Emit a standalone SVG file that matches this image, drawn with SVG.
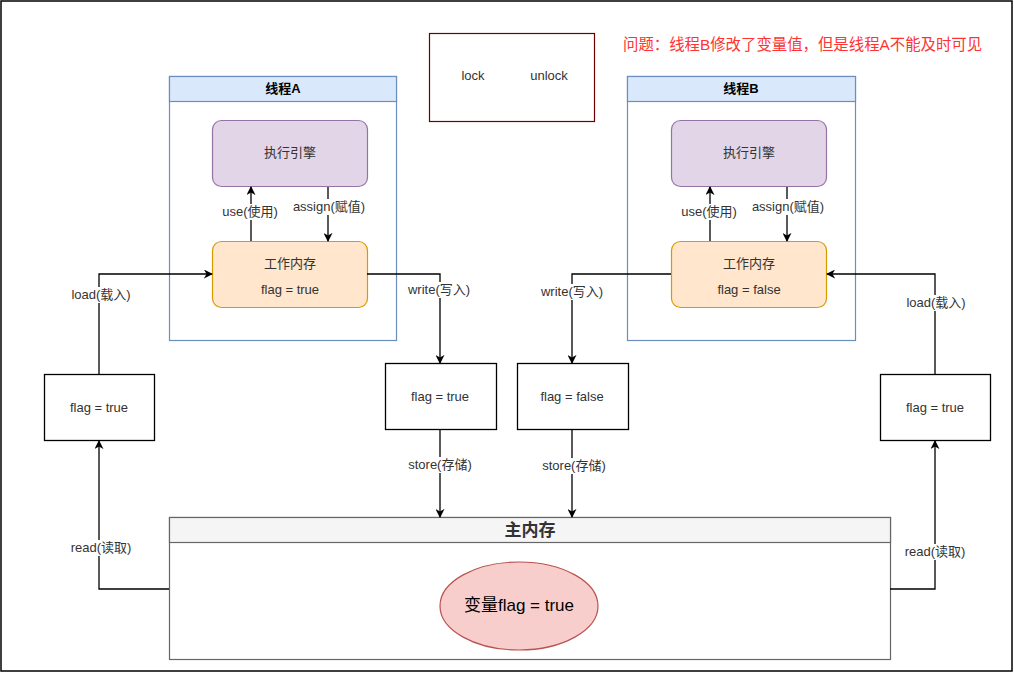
<svg xmlns="http://www.w3.org/2000/svg" width="1014" height="673" viewBox="0 0 1014 673">
<style>
text{font-family:"Liberation Sans","Noto Sans CJK SC",sans-serif;font-size:13px;fill:#333333;text-anchor:middle;dominant-baseline:central}
.edge{fill:none;stroke:#000;stroke-width:1.3}
.lbl{fill:#fff;stroke:none}
.box{fill:#fff;stroke:#000;stroke-width:1.3}
.eng{fill:#e1d5e7;stroke:#9673a6;stroke-width:1.2}
.wm{fill:#ffe6cc;stroke:#d79b00;stroke-width:1.2}
.th{fill:#fff;stroke:#6c8ebf;stroke-width:1.2}
.thh{fill:#dae8fc;stroke:#6c8ebf;stroke-width:1.2}
.bold{font-weight:bold;fill:#000}
</style>
<defs>
<marker id="arr" viewBox="0 0 10 10" refX="9" refY="5" markerWidth="9" markerHeight="9" markerUnits="userSpaceOnUse" orient="auto">
<path d="M0,0 L10,5 L0,10 L3,5 Z" fill="#000"/>
</marker>
</defs>
<rect x="1" y="1" width="1011" height="670" fill="#fff" stroke="#000" stroke-width="1.5"/>

<g id="lockbox">
<rect x="429.5" y="33.5" width="165" height="88" fill="#fff" stroke="#6f0000" stroke-width="1.2"/>
<text x="473" y="75">lock</text>
<text x="549" y="75">unlock</text>
</g>
<g id="problem">
<text x="623" y="44" style="text-anchor:start;fill:#ff3333;font-size:15.4px">问题：线程B修改了变量值，但是线程A不能及时可见</text>
</g>

<g id="threadA">
<rect class="th" x="169.5" y="76.5" width="227" height="264"/>
<rect class="thh" x="169.5" y="76.5" width="227" height="25"/>
<text class="bold" x="283" y="88">线程A</text>
</g>
<g id="engineA">
<rect class="eng" x="212.5" y="120.5" width="155" height="66" rx="9"/>
<text x="290" y="152">执行引擎</text>
</g>
<g id="wmA">
<rect class="wm" x="212.5" y="241.5" width="155" height="66" rx="9"/>
<text x="290" y="263">工作内存</text>
<text x="290" y="289">flag = true</text>
</g>

<g id="threadB">
<rect class="th" x="627.5" y="76.5" width="228" height="264"/>
<rect class="thh" x="627.5" y="76.5" width="228" height="25"/>
<text class="bold" x="741" y="88">线程B</text>
</g>
<g id="engineB">
<rect class="eng" x="671.5" y="120.5" width="155" height="66" rx="9"/>
<text x="749" y="152">执行引擎</text>
</g>
<g id="wmB">
<rect class="wm" x="671.5" y="241.5" width="155" height="66" rx="9"/>
<text x="749" y="263">工作内存</text>
<text x="749" y="289">flag = false</text>
</g>

<g id="boxL">
<rect class="box" x="44.5" y="374.5" width="110" height="66"/>
<text x="99" y="407">flag = true</text>
</g>
<g id="boxML">
<rect class="box" x="385.5" y="363.5" width="111" height="66"/>
<text x="440" y="396">flag = true</text>
</g>
<g id="boxMR">
<rect class="box" x="517.5" y="363.5" width="111" height="66"/>
<text x="572" y="396">flag = false</text>
</g>
<g id="boxR">
<rect class="box" x="880.5" y="374.5" width="110" height="66"/>
<text x="935" y="407">flag = true</text>
</g>

<g id="mainMemory">
<rect x="169.5" y="517.5" width="721" height="142" fill="#fff" stroke="#666666" stroke-width="1.2"/>
<rect x="169.5" y="517.5" width="721" height="25" fill="#f5f5f5" stroke="#666666" stroke-width="1.2"/>
<text class="bold" x="530" y="530" style="font-size:17px;fill:#333">主内存</text>
</g>
<g id="variable">
<ellipse cx="519" cy="606" rx="79" ry="44" fill="#f8cecc" stroke="#b85450" stroke-width="1.2"/>
<text x="519" y="605" style="font-size:17px;fill:#000">变量flag = true</text>
</g>

<g id="connectors">
<path class="edge" d="M251,241 V187" marker-end="url(#arr)"/>
<path class="edge" d="M328,187 V241" marker-end="url(#arr)"/>
<path class="edge" d="M710,241 V187" marker-end="url(#arr)"/>
<path class="edge" d="M787,187 V241" marker-end="url(#arr)"/>
<path class="edge" d="M99,374 V274 H212" marker-end="url(#arr)"/>
<path class="edge" d="M367,274 H440 V363" marker-end="url(#arr)"/>
<path class="edge" d="M440,429 V517" marker-end="url(#arr)"/>
<path class="edge" d="M671,274 H572 V363" marker-end="url(#arr)"/>
<path class="edge" d="M572,429 V517" marker-end="url(#arr)"/>
<path class="edge" d="M935,374 V274 H827" marker-end="url(#arr)"/>
<path class="edge" d="M169,589 H99 V441" marker-end="url(#arr)"/>
<path class="edge" d="M890,589 H935 V441" marker-end="url(#arr)"/>

<rect class="lbl" x="218" y="204" width="65" height="16"/>
<text x="250" y="211">use(使用)</text>
<rect class="lbl" x="289" y="199" width="80" height="16"/>
<text x="329" y="206">assign(赋值)</text>
<rect class="lbl" x="677" y="204" width="65" height="16"/>
<text x="709" y="211">use(使用)</text>
<rect class="lbl" x="748" y="199" width="80" height="16"/>
<text x="788" y="206">assign(赋值)</text>
<rect class="lbl" x="68" y="287" width="66" height="16"/>
<text x="101" y="294">load(载入)</text>
<rect class="lbl" x="404" y="282" width="70" height="16"/>
<text x="439" y="289">write(写入)</text>
<rect class="lbl" x="537" y="284" width="70" height="16"/>
<text x="572" y="291">write(写入)</text>
<rect class="lbl" x="903" y="295" width="66" height="16"/>
<text x="936" y="302">load(载入)</text>
<rect class="lbl" x="405" y="457" width="70" height="16"/>
<text x="440" y="464">store(存储)</text>
<rect class="lbl" x="539" y="458" width="70" height="16"/>
<text x="574" y="465">store(存储)</text>
<rect class="lbl" x="67" y="540" width="68" height="16"/>
<text x="101" y="547">read(读取)</text>
<rect class="lbl" x="901" y="544" width="68" height="16"/>
<text x="935" y="551">read(读取)</text>
</g>
</svg>
